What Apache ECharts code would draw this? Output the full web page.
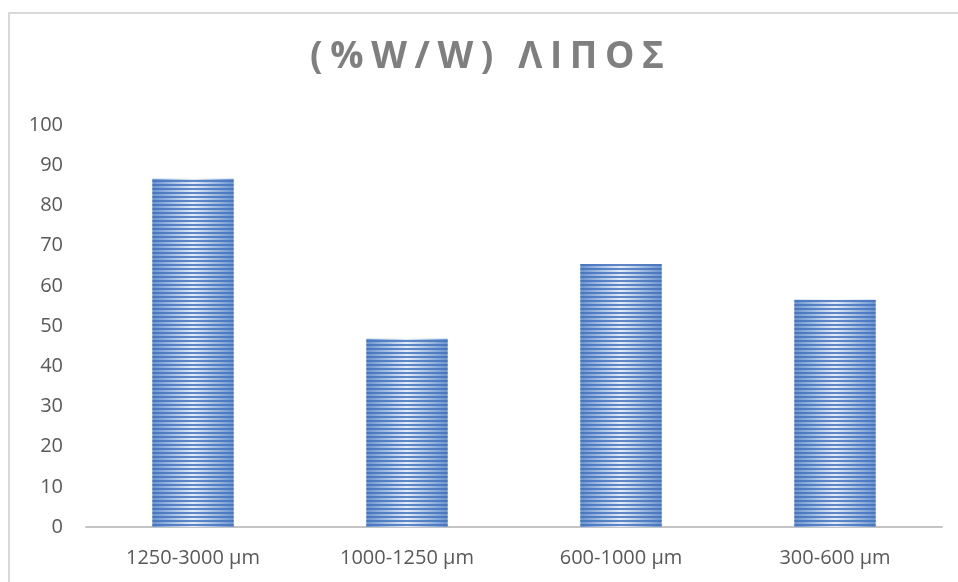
<!DOCTYPE html>
<html>
<head>
<meta charset="utf-8">
<script src="https://cdn.jsdelivr.net/npm/echarts@6/dist/echarts.min.js"></script>
<style>
  html, body { margin: 0; padding: 0; background: #ffffff; }
  #chart { width: 958px; height: 582px; }
</style>
</head>
<body>
<div id="chart"></div>
<script>
// Fat content (% w/w) per particle size fraction
var categories = ['1250-3000 µm', '1000-1250 µm', '600-1000 µm', '300-600 µm'];
var fatValues = [86.6, 46.8, 65.4, 56.5];
var yTicks = { min: 0, max: 100, step: 10 };
var titleText = '(%W/W) ΛΙΠΟΣ';

var chart = echarts.init(document.getElementById('chart'), null, { renderer: 'canvas' });

// Spaced-out title: lay each glyph out with measured widths, spread to a fixed span
var titleFont = "bold 37px 'Open Sans'";
var titleSpan = 354;
var ctx = document.createElement('canvas').getContext('2d');
ctx.font = titleFont;
var chars = Array.from(titleText);
var widths = chars.map(function (c) { return ctx.measureText(c).width; });
var glyphTotal = widths.reduce(function (a, b) { return a + b; }, 0);
var tracking = Math.max(0, (titleSpan - glyphTotal) / (chars.length - 1));
var total = glyphTotal + tracking * (chars.length - 1);
var titleCenterX = 487, titleCenterY = 57;
var cursor = titleCenterX - total / 2;
var titleGlyphs = chars.map(function (c, i) {
  var el = {
    type: 'text',
    x: cursor,
    y: titleCenterY,
    style: {
      text: c,
      font: titleFont,
      fill: '#7f7f7f',
      textAlign: 'left',
      textVerticalAlign: 'middle'
    }
  };
  cursor += widths[i] + tracking;
  return el;
});

var barFill = {
  type: 'linear', x: 0, y: 0, x2: 1, y2: 0,
  colorStops: [
    { offset: 0, color: '#6a94cf' },
    { offset: 0.5, color: '#e4ecf8' },
    { offset: 1, color: '#6a94cf' }
  ]
};

chart.setOption({
  animation: false,
  backgroundColor: '#ffffff',
  grid: { left: 86, right: 16, top: 125, bottom: 55, containLabel: false },
  xAxis: {
    type: 'category',
    data: categories,
    axisLine: { show: true, lineStyle: { color: '#c4c4c4', width: 2 } },
    axisTick: { show: false },
    axisLabel: {
      color: '#595959',
      fontFamily: 'Open Sans',
      fontSize: 20,
      margin: 21
    },
    splitLine: { show: false }
  },
  yAxis: {
    type: 'value',
    min: yTicks.min,
    max: yTicks.max,
    interval: yTicks.step,
    axisLine: { show: false },
    axisTick: { show: false },
    splitLine: { show: false },
    axisLabel: {
      color: '#595959',
      fontFamily: 'Open Sans',
      fontSize: 20,
      margin: 23
    }
  },
  series: [{
    type: 'bar',
    data: fatValues,
    barWidth: '38%',
    itemStyle: {
      color: barFill,
      decal: {
        symbol: 'rect',
        symbolSize: 1,
        dashArrayX: [1, 0],
        dashArrayY: [2, 2],
        rotation: 0,
        color: 'rgba(66,114,188,0.82)'
      }
    }
  }],
  graphic: [
    {
      type: 'rect',
      silent: true,
      shape: { x: 9, y: 13, width: 1200, height: 1200 },
      style: { fill: 'none', stroke: '#d9d9d9', lineWidth: 2 }
    },
    { type: 'group', children: titleGlyphs }
  ]
});
</script>
</body>
</html>
